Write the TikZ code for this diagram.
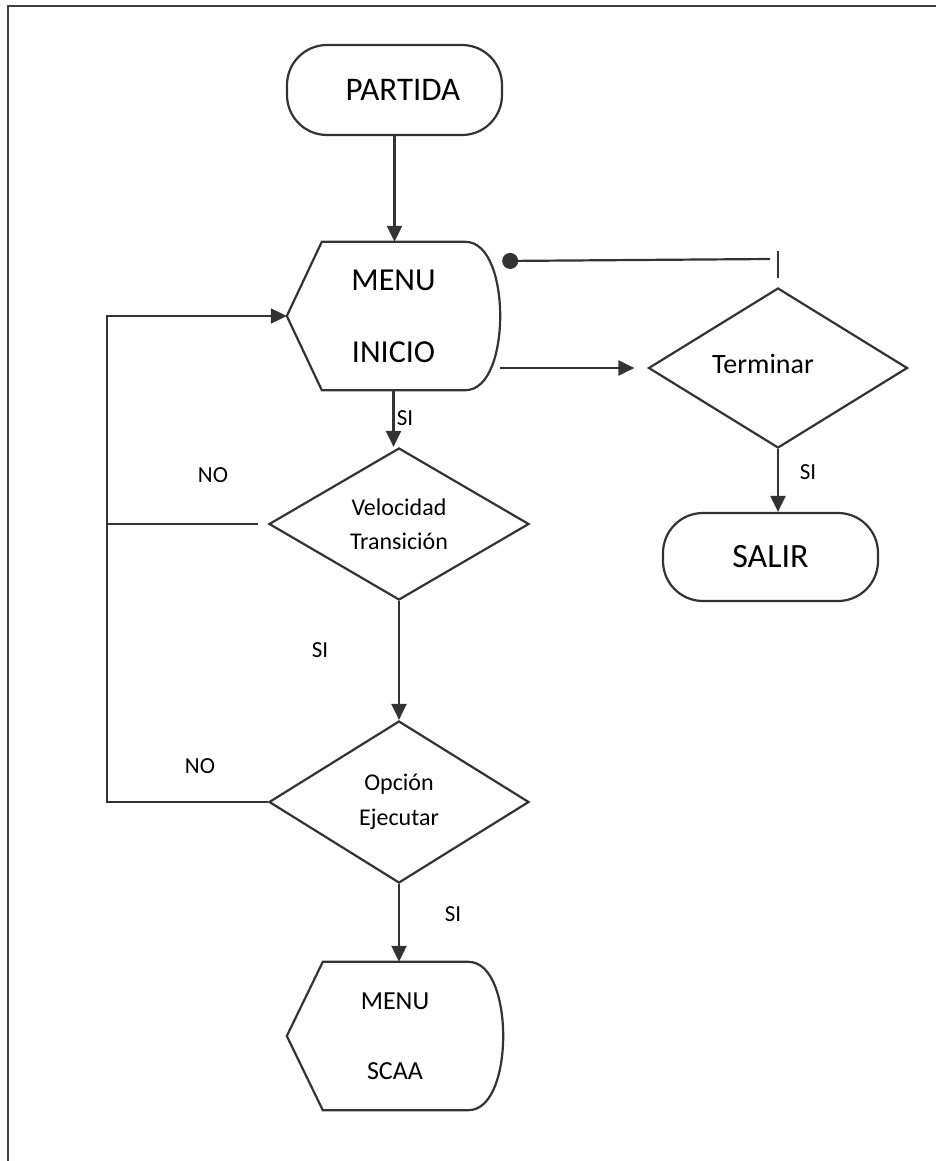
\documentclass[tikz,border=0pt]{standalone}
\usepackage{fontspec}
\setmainfont{Carlito}
\usetikzlibrary{shapes.geometric,arrows.meta,calc}

\begin{document}
\begin{tikzpicture}[x=1pt,y=-1pt,
  line/.style={draw=black!80,line width=2.2pt},
  arrow/.style={line,-{Triangle[length=16pt,width=15pt]}},
  dotarrow/.style={line,-{Circle[length=16pt]}},
  terminal/.style={line,rectangle,rounded corners=40pt,minimum width=215pt,inner sep=0pt},
  dispbox/.style={rectangle,draw=none,inner sep=0pt,align=center},
  decision/.style={line,diamond,shape aspect=1.7,inner sep=0pt,align=center},
  lbl/.style={inner sep=0pt,font=\fontsize{23}{26}\selectfont}
]
\useasboundingbox (0,0) rectangle (936,1161);
\fill[white] (0,0) rectangle (936,1161);

% page frame (top and left edges)
\draw[line width=2.8pt,draw=black!75] (8,1161) -- (8,6) -- (936,6);

% start terminal
\node[terminal,minimum height=90pt,font=\fontsize{33}{36}\selectfont] (partida) at (394.5,90) {\hspace*{17pt}PARTIDA};

% display shape: MENU / INICIO
\node[dispbox,minimum width=213pt,minimum height=148pt,font=\fontsize{32}{72}\selectfont] (menuini) at (393.5,316) {MENU\\INICIO};
\draw[line] (menuini.west) -- ([xshift=35pt]menuini.north west) -- ([xshift=-35pt]menuini.north east)
  .. controls ([xshift=-10pt]menuini.north east) and ([yshift=34pt]menuini.east) .. (menuini.east)
  .. controls ([yshift=-34pt]menuini.east) and ([xshift=-10pt]menuini.south east) .. ([xshift=-35pt]menuini.south east)
  -- ([xshift=35pt]menuini.south west) -- cycle;

% decisions
\node[decision,minimum width=260pt,minimum height=152pt,font=\fontsize{24}{34}\selectfont] (vel) at (399,524) {Velocidad\\Transición};
\node[decision,minimum width=260pt,minimum height=162pt,font=\fontsize{24}{35}\selectfont] (opc) at (399,802) {Opción\\Ejecutar};
\node[decision,minimum width=259pt,minimum height=160pt,font=\fontsize{28}{32}\selectfont] (term) at (778,368) {\raisebox{8pt}{Terminar}\hspace*{30pt}};

% display shape: MENU / SCAA
\node[dispbox,minimum width=216pt,minimum height=148pt,font=\fontsize{26}{70}\selectfont] (scaa) at (395,1036) {MENU\\SCAA};
\draw[line] (scaa.west) -- ([xshift=36pt]scaa.north west) -- ([xshift=-35pt]scaa.north east)
  .. controls ([xshift=-10pt]scaa.north east) and ([yshift=34pt]scaa.east) .. (scaa.east)
  .. controls ([yshift=-34pt]scaa.east) and ([xshift=-10pt]scaa.south east) .. ([xshift=-35pt]scaa.south east)
  -- ([xshift=36pt]scaa.south west) -- cycle;

% exit terminal
\node[terminal,minimum height=88pt,font=\fontsize{34}{38}\selectfont] (salir) at (770.5,557) {SALIR};

% main flow
\draw[arrow] (partida.south) -- (partida.south |- menuini.north);
\draw[arrow] (menuini.south) -- (menuini.south |- vel.north);
\draw[arrow] (vel.south) -- (opc.north);
\draw[arrow] (opc.south) -- (opc.south |- scaa.north);

% NO branches back to the menu
\coordinate (loopbot) at (107,802);
\coordinate (looptop) at (107,316);
\draw[line] ([xshift=-10pt]vel.west) -- (vel.west -| looptop);
\draw[arrow] (opc.west) -- (loopbot) -- (looptop) -- (menuini.west);

% menu to exit check
\draw[arrow,shorten >=13pt] (term.west -| menuini.east) -- (term.west);
\draw[arrow] (term.south) -- (term.south |- salir.north);

% return from exit check
\coordinate (back) at ($(menuini.east)+(2,-55)$);
\draw[line] ($(term.north)+(0,-9)$) -- ($(term.north)+(0,-36)$);
\draw[dotarrow] (770,259) -- (back);

% branch labels
\node[lbl] (si1) at (405,418) {SI};
\node[lbl] (no1) at (213,475) {NO};
\node[lbl] (si2) at (320,650) {SI};
\node[lbl] (no2) at (200,766) {NO};
\node[lbl] (si3) at (453,914) {SI};
\node[lbl] (si4) at (808,472) {SI};
\end{tikzpicture}
\end{document}
